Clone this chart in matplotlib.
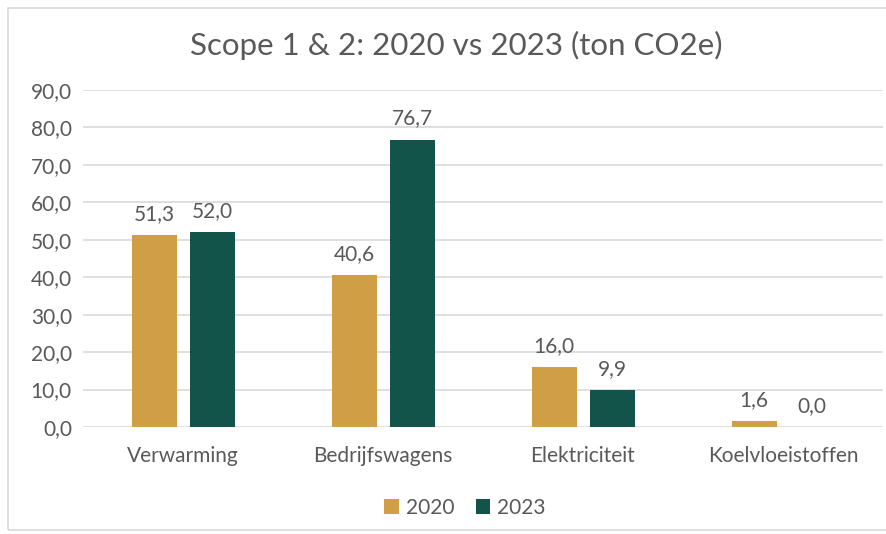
"""Scope 1 & 2 emissions: 2020 vs 2023 bar chart."""

import matplotlib
matplotlib.use("Agg")
import matplotlib.pyplot as plt
import numpy as np
from matplotlib.patches import Rectangle

categories = ["Verwarming", "Bedrijfswagens", "Elektriciteit", "Koelvloeistoffen"]
values_2020 = [51.3, 40.6, 16.0, 1.6]
values_2023 = [52.0, 76.7, 9.9, 0.0]
series_labels = ["2020", "2023"]
yticks = np.arange(0, 100, 10)

GOLD = "#D09E45"
GREEN = "#12534A"
TEXT = "#595959"
FS = 15

plt.rcParams["font.family"] = ["Lato", "DejaVu Sans"]


def fmt(v):
    return f"{v:.1f}".replace(".", ",")


fig = plt.figure(figsize=(8.86, 5.34), dpi=100)
fig.patches.append(Rectangle((8 / 886, 4 / 534), 1.0, 522 / 534, transform=fig.transFigure,
                             fill=False, edgecolor="#D9D9D9", linewidth=1.2))
ax = fig.add_axes([83 / 886, 1 - 427 / 534, 800 / 886, (427 - 90) / 534])

x = np.arange(len(categories))
width = 0.225
gap = 0.065
off = (width + gap) / 2
bars1 = ax.bar(x - off, values_2020, width, color=GOLD, label=series_labels[0], zorder=3)
bars2 = ax.bar(x + off, values_2023, width, color=GREEN, label=series_labels[1], zorder=3)

for bars in (bars1, bars2):
    for b in bars:
        ax.text(b.get_x() + b.get_width() / 2, b.get_height() + 3, fmt(b.get_height()),
                ha="center", va="bottom", fontsize=FS, color=TEXT)

ax.set_xlim(-0.5, len(categories) - 0.5)
ax.set_ylim(0, 90)
ax.set_yticks(yticks)
ax.set_yticklabels([fmt(v) for v in yticks], fontsize=FS, color=TEXT)
ax.set_xticks(x)
ax.set_xticklabels(categories, fontsize=FS, color=TEXT)
ax.tick_params(length=0, pad=8)
ax.tick_params(axis="x", pad=14)
ax.grid(axis="y", color="#D9D9D9", linewidth=1.2, zorder=0)
for s in ax.spines.values():
    s.set_visible(False)

fig.text(0.515, 1 - 45 / 534, "Scope 1 & 2: 2020 vs 2023 (ton CO2e)", ha="center", va="center",
         fontsize=22.5, color=TEXT)
fig.legend(loc="center", bbox_to_anchor=(0.525, 1 - 508 / 534), ncol=2, frameon=False,
           fontsize=FS, labelcolor=TEXT, handlelength=0.7, handleheight=0.7,
           handletextpad=0.35, columnspacing=1.0)

fig.savefig("out.png", dpi=100)
